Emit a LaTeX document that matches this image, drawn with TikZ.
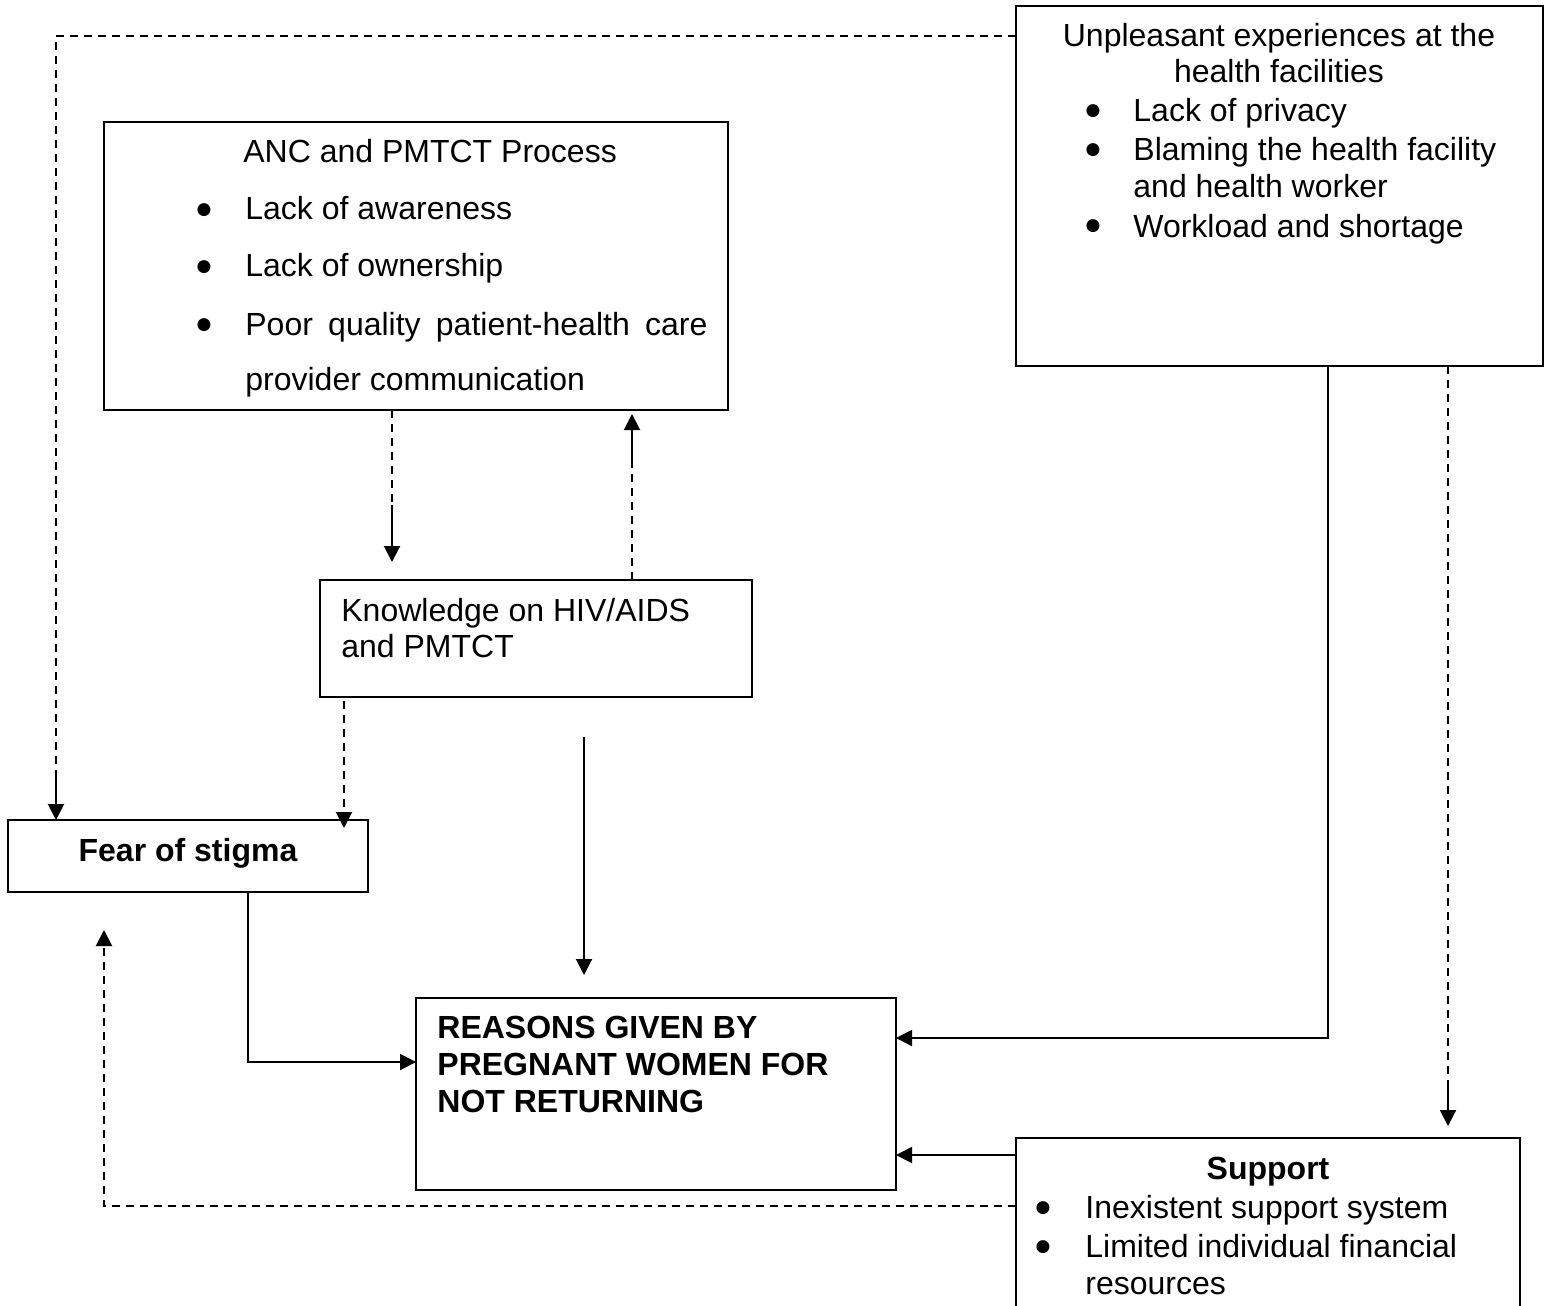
\documentclass[tikz,border=0pt]{standalone}
\usepackage{fontspec}
\setmainfont{Liberation Sans}
\newfontfamily\bulletfont{DejaVu Sans}
\usetikzlibrary{arrows.meta,fit}
\begin{document}
\begin{tikzpicture}[x=0.5pt,y=-0.5pt,
  box/.style={draw,line width=1pt,inner sep=0pt,outer sep=0pt},
  txt/.style={anchor=base west,inner sep=0pt,font=\fontsize{16pt}{18.4pt}\selectfont},
  ctxt/.style={txt,anchor=base},
  bul/.style={anchor=base,inner sep=0pt,yshift=3pt,font=\bulletfont\fontsize{8.5pt}{10pt}\selectfont},
  lnk/.style={line width=1pt},
  dsh/.style={lnk,dash pattern=on 4pt off 3pt},
  tip/.style={-{Triangle[length=8pt,width=8pt]}},
]
\useasboundingbox (0,0) rectangle (1551,1305);
\clip (0,0) rectangle (1551,1305);

% boxes
\node[box,fit={(104,122) (728,410)}] (anc) {};
\node[box,fit={(1016,6) (1543,366)}] (unp) {};
\node[box,fit={(320,580) (752,697)}] (know) {};
\node[box,fit={(8,820) (368,892)}] (fear) {};
\node[box,fit={(416,998) (896,1190)}] (rea) {};
\node[box,fit={(1016,1138) (1520,1330)}] (sup) {};

% ANC and PMTCT process
\node[txt] (ancT) at (243,163) {ANC and PMTCT Process};
\node[bul] (ancB1) at (204,220) {●};
\node[txt] (ancL1) at (245,220) {Lack of awareness};
\node[bul] (ancB2) at (204,277) {●};
\node[txt] (ancL2) at (245,277) {Lack of ownership};
\node[bul] (ancB3) at (204,335) {●};
\node[txt] (ancL3) at (245,335) {\makebox[231pt][s]{Poor quality patient-health care}};
\node[txt] (ancL4) at (245,390) {provider communication};

% unpleasant experiences
\node[ctxt] (unpT1) at (1279,47) {Unpleasant experiences at the};
\node[ctxt] (unpT2) at (1279,83) {health facilities};
\node[bul] (unpB1) at (1093,122) {●};
\node[txt] (unpL1) at (1133,122) {Lack of privacy};
\node[bul] (unpB2) at (1093,161) {●};
\node[txt] (unpL2) at (1133,161) {Blaming the health facility};
\node[txt] (unpL3) at (1133,198) {and health worker};
\node[bul] (unpB3) at (1093,237) {●};
\node[txt] (unpL4) at (1133,237) {Workload and shortage};

% knowledge
\node[txt] (knowL1) at (341,621) {Knowledge on HIV/AIDS};
\node[txt] (knowL2) at (341,657) {and PMTCT};

% fear of stigma
\node[ctxt,font=\fontsize{16pt}{18.4pt}\selectfont\bfseries] (fearT) at (188,861) {Fear of stigma};

% reasons
\node[txt,font=\fontsize{16pt}{18.4pt}\selectfont\bfseries] (reaL1) at (437,1038) {REASONS GIVEN BY};
\node[txt,font=\fontsize{16pt}{18.4pt}\selectfont\bfseries] (reaL2) at (437,1075) {PREGNANT WOMEN FOR};
\node[txt,font=\fontsize{16pt}{18.4pt}\selectfont\bfseries] (reaL3) at (437,1112) {NOT RETURNING};

% support
\node[ctxt,font=\fontsize{16pt}{18.4pt}\selectfont\bfseries] (supT) at (1268,1179) {Support};
\node[bul] (supB1) at (1043,1218) {●};
\node[txt] (supL1) at (1085,1218) {Inexistent support system};
\node[bul] (supB2) at (1043,1257) {●};
\node[txt] (supL2) at (1085,1257) {Limited individual financial};
\node[txt] (supL3) at (1085,1294) {resources};

% connector end points
\coordinate (c1) at (56,36);
\coordinate (c2) at (56,775);
\coordinate (c3) at (392,505);
\coordinate (c4) at (392,562);
\coordinate (c5) at (632,465);
\coordinate (c6) at (632,414);
\coordinate (c7) at (344,828);
\coordinate (c8) at (584,737);
\coordinate (c9) at (584,975);
\coordinate (c10) at (248,1062);
\coordinate (c11) at (1328,1038);
\coordinate (c12) at (1448,1080);
\coordinate (c13) at (1448,1126);
\coordinate (c14) at (104,1206);
\coordinate (c15) at (104,930);

% unpleasant experiences -> fear of stigma
\draw[dsh] (unp.west |- c1) -- (c1) -- (c2);
\draw[lnk,tip] (c2) -- (fear.north -| c2);

% ANC process <-> knowledge
\draw[dsh] (anc.south -| c3) -- (c3);
\draw[lnk,tip] (c3) -- (c4);
\draw[dsh] (know.north -| c5) -- (c5);
\draw[lnk,tip] (c5) -- (c6);

% knowledge -> fear of stigma
\draw[dsh,tip] ([yshift=-2pt]know.south -| c7) -- (c7);

% knowledge -> reasons
\draw[lnk,tip] (c8) -- (c9);

% fear of stigma -> reasons
\draw[lnk,tip] (fear.south -| c10) -- (c10) -- (rea.west |- c10);

% unpleasant experiences -> reasons
\draw[lnk,tip] (unp.south -| c11) -- (c11) -- (rea.east |- c11);

% unpleasant experiences -> support
\draw[dsh] (unp.south -| c12) -- (c12);
\draw[lnk,tip] (c12) -- (c13);

% support -> reasons
\draw[lnk,tip] (sup.west |- 0,1155) -- (rea.east |- 0,1155);

% support -> fear of stigma
\draw[dsh,tip] (sup.west |- c14) -- (c14) -- (c15);
\end{tikzpicture}
\end{document}
